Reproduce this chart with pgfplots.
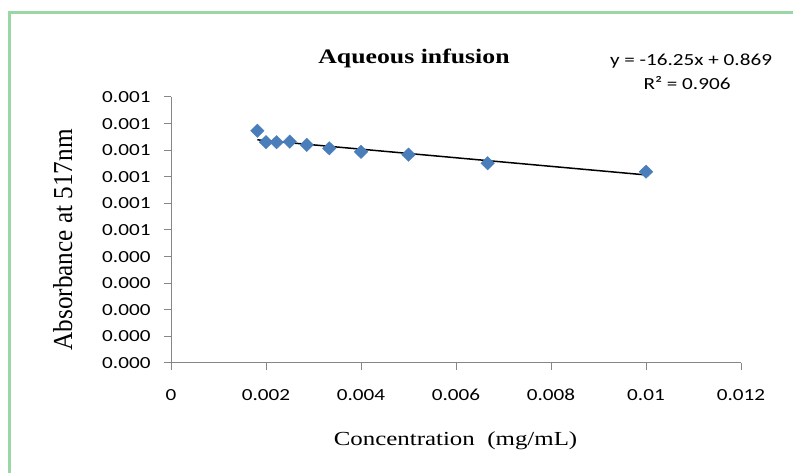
\documentclass[border=0pt]{standalone}
\usepackage{fontspec}
\setmainfont{Liberation Serif}
\newfontfamily\serifw{Liberation Serif}[FakeStretch=1.25]
\newfontfamily\serifv{Liberation Serif}[FakeStretch=0.92]
\newfontfamily\calw{Carlito}[FakeStretch=1.25]
\usepackage{pgfplots}
\pgfplotsset{compat=1.18}
\definecolor{framegreen}{RGB}{155,215,165}
\definecolor{markblue}{RGB}{74,126,187}
\definecolor{axisgray}{RGB}{134,134,134}
\begin{document}
\begin{tikzpicture}[x=1bp,y=1bp]
\path[use as bounding box] (0,0) rectangle (793,473);
\draw[framegreen, line width=2.5bp] (9.3,-5) -- (9.3,460.5) -- (800,460.5);
\begin{axis}[
  at={(171bp,110bp)}, anchor=south west,
  scale only axis, width=570bp, height=266bp,
  xmin=0, xmax=0.012, ymin=0, ymax=0.001,
  axis lines=left,
  axis line style={draw=axisgray, line width=1bp, -},
  tick style={draw=axisgray, line width=1bp},
  tick align=outside, major tick length=7bp,
  xtick={0,0.002,0.004,0.006,0.008,0.01,0.012},
  xticklabels={0,0.002,0.004,0.006,0.008,0.01,0.012},
  ytick={0,0.0001,0.0002,0.0003,0.0004,0.0005,0.0006,0.0007,0.0008,0.0009,0.001},
  yticklabels={0.000,0.000,0.000,0.000,0.000,0.001,0.001,0.001,0.001,0.001,0.001},
  scaled x ticks=false, scaled y ticks=false,
  xticklabel style={font=\calw\fontsize{17}{20}\selectfont, anchor=base, inner sep=0pt, yshift=-30.5bp},
  yticklabel style={font=\calw\fontsize{17}{20}\selectfont, anchor=east, inner sep=0pt, xshift=-13.3bp},
  clip=false,
]
\addplot[only marks, mark=diamond*, mark size=6.7bp,
  mark options={xscale=1.35, draw=markblue, fill=markblue}]
  coordinates {(0.001818,0.000873) (0.002,0.000830) (0.002222,0.000830)
  (0.0025,0.000832) (0.002857,0.000820) (0.003333,0.000807) (0.004,0.000794)
  (0.005,0.000783) (0.006667,0.000751) (0.01,0.000719)};
\addplot[black, line width=1.5bp] coordinates {(0.001818,0.000839) (0.01,0.000707)};
\end{axis}
\node[anchor=base] at (414,409.5) {\serifw\bfseries\fontsize{20.7}{24}\selectfont Aqueous infusion};
\node[anchor=base] at (455.5,27) {\serifw\fontsize{20}{24}\selectfont Concentration\ \ (mg/mL)};
\node[rotate=90, anchor=base] at (72,233) {\serifv\fontsize{27.5}{30}\selectfont Absorbance at 517nm};
\node[anchor=base] at (691,407) {\calw\fontsize{17}{20}\selectfont y = -16.25x + 0.869};
\node[anchor=base] at (687,383) {\calw\fontsize{17}{20}\selectfont R² = 0.906};
\end{tikzpicture}
\end{document}
